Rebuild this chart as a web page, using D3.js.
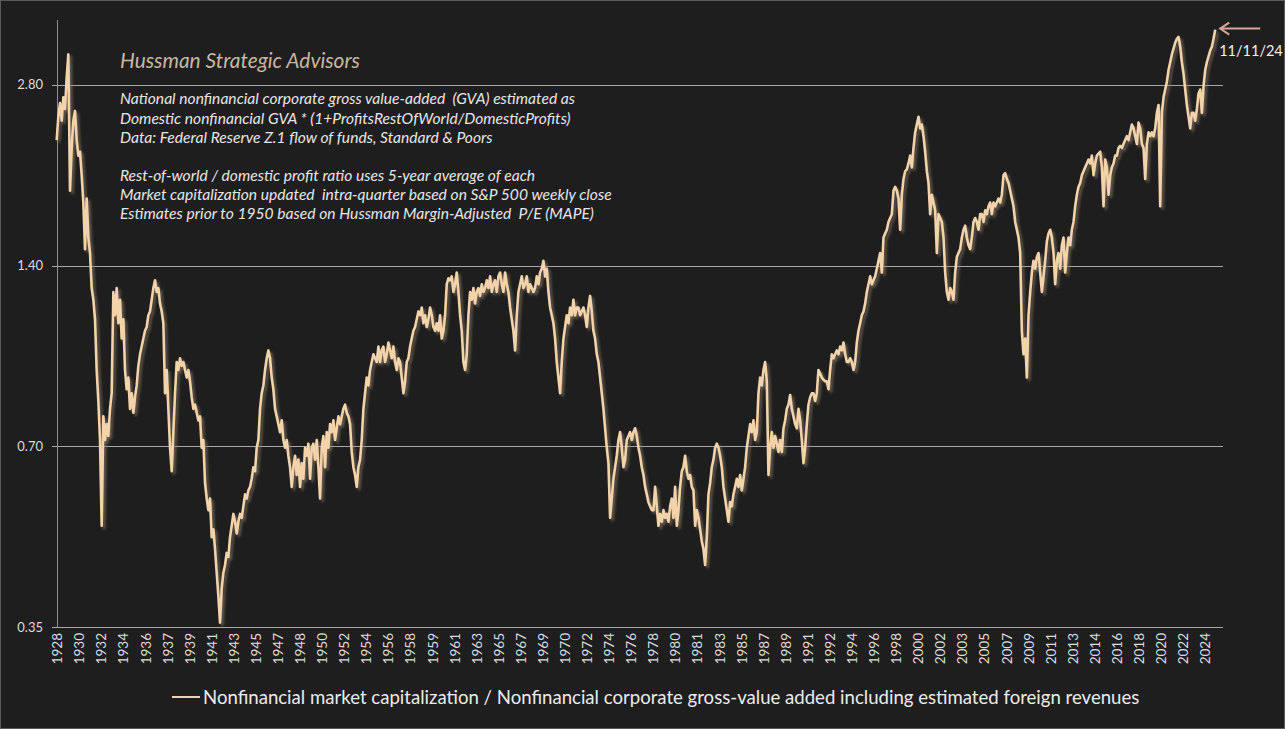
<!DOCTYPE html>
<html><head><meta charset="utf-8">
<script src="https://cdn.jsdelivr.net/npm/d3@7"></script>
<style>
html,body{margin:0;padding:0;background:#1e1e1e;}
svg{display:block;}
text{font-family:Lato,"Open Sans",sans-serif;}
</style></head><body>
<svg id="chart" width="1285" height="729"></svg>
<script>
// ---------- axis labels ----------
const tickLabels = ["1928","1930","1932","1934","1936","1937","1939","1941","1943","1945","1947","1948","1950","1952","1954","1956","1958","1959","1961","1963","1965","1967","1969","1970","1972","1974","1976","1978","1980","1981","1983","1985","1987","1989","1991","1992","1994","1996","1998","2000","2002","2003","2005","2007","2009","2011","2013","2014","2016","2018","2020","2022","2024"];
const yTicks = [0.35, 0.70, 1.40, 2.80];
const yMax = 3.59;
const startDate = 1928.844;   // first observation (decimal year)
const endDate = 2024.861;     // 11/11/24
const endLabel = "11/11/24";
const seriesName = "Nonfinancial market capitalization / Nonfinancial corporate gross-value added including estimated foreign revenues";
const titleText = "Hussman Strategic Advisors";
const noteLines = [
  "National nonfinancial corporate gross value-added  (GVA) estimated as",
  "Domestic nonfinancial GVA * (1+ProfitsRestOfWorld/DomesticProfits)",
  "Data: Federal Reserve Z.1 flow of funds, Standard & Poors",
  "",
  "Rest-of-world / domestic profit ratio uses 5-year average of each",
  "Market capitalization updated  intra-quarter based on S&P 500 weekly close",
  "Estimates prior to 1950 based on Hussman Margin-Adjusted  P/E (MAPE)"
];

// ---------- series values (equally spaced in time) ----------
const v1928 = [2.265,2.477,2.610,2.440,2.669,2.552,2.876,3.146,1.865,2.198,2.440,2.533,2.265,2.134,2.166,1.980,1.783,1.491,1.810,1.559,1.469,1.284,1.228,1.139,0.938,0.833,0.717,0.516,0.785,0.717,0.762,0.728,0.808,0.858,1.265,1.157,1.284,1.122,1.228,1.058,1.139,0.938,0.871,0.911,0.808,0.858,0.796,0.845,0.884,0.953,0.996,1.026,1.058,1.090,1.106,1.157,1.174,1.228,1.284,1.323,1.265,1.284,1.210,1.174,1.122,0.858,0.938,0.808,0.696,0.636,0.739,0.858,0.967,0.938,0.981,0.953,0.967,0.938,0.911,0.938,0.898,0.845,0.808,0.821,0.796,0.773,0.785,0.696,0.717,0.608,0.573,0.548,0.573,0.494,0.509,0.472,0.431,0.394,0.356,0.406,0.431,0.444,0.465,0.458,0.494,0.516,0.540,0.524,0.501,0.524,0.540,0.532,0.556,0.582,0.573,0.591];
const v1945 = [0.599,0.618,0.646,0.636,0.696,0.717,0.808,0.858,0.884,0.938,0.981,1.011,0.981,0.911,0.871,0.808,0.785,0.762,0.739,0.773,0.717,0.696,0.717,0.675,0.646,0.599,0.646,0.675,0.627,0.665,0.599,0.656,0.618,0.696,0.675,0.707,0.618,0.696,0.707,0.665,0.717,0.646,0.573,0.696,0.728,0.646,0.739,0.696,0.762,0.739,0.773,0.717,0.750,0.785,0.762,0.785,0.808,0.821,0.796,0.785,0.762,0.685,0.646,0.627,0.599,0.646,0.665,0.717,0.808,0.858,0.911,0.884,0.938,0.967,0.996,0.981,0.967,1.026,0.967,1.011,1.026,0.967,0.996,1.042,1.011,0.981,1.026,0.967,0.938,0.981,0.967,0.911,0.858,0.898,0.967,0.981,1.026,1.058,1.090,1.106,1.139,1.174,1.157,1.192,1.122,1.157,1.106,1.139,1.192,1.157,1.106,1.090,1.122,1.090,1.157,1.058,1.090,1.157,1.303,1.333];
const v1961 = [1.323,1.343,1.265,1.303,1.363,1.265,1.157,1.090,0.967,0.938,0.996,1.157,1.265,1.228,1.284,1.210,1.265,1.284,1.246,1.303,1.265,1.284,1.323,1.284,1.343,1.265,1.303,1.323,1.265,1.343,1.363,1.303,1.265,1.363,1.303,1.265,1.192,1.139,1.090,1.011,1.157,1.265,1.303,1.343,1.284,1.303,1.343,1.265,1.303,1.284,1.265,1.284,1.343,1.303,1.363,1.383,1.426,1.343,1.383,1.265,1.192,1.157,1.122,1.058,0.967,0.911,0.858,0.967,1.058,1.106,1.157,1.122,1.192,1.157,1.228,1.157,1.192,1.192,1.157,1.174,1.192,1.157,1.106,1.192,1.246,1.174,1.090,1.058,0.996,0.967,0.911,0.858,0.808,0.750,0.696,0.656,0.532,0.573,0.618,0.646,0.675,0.717,0.739,0.696,0.646,0.665,0.717,0.728,0.739,0.717,0.739,0.750,0.728,0.696,0.675,0.646,0.627,0.599,0.582,0.565];
const v1978 = [0.556,0.548,0.548,0.599,0.556,0.516,0.540,0.524,0.548,0.532,0.540,0.524,0.556,0.573,0.532,0.599,0.516,0.548,0.599,0.636,0.646,0.675,0.636,0.618,0.627,0.599,0.591,0.516,0.548,0.532,0.509,0.486,0.472,0.444,0.494,0.582,0.608,0.646,0.665,0.696,0.707,0.696,0.675,0.646,0.599,0.573,0.548,0.524,0.565,0.556,0.582,0.599,0.618,0.599,0.627,0.591,0.618,0.646,0.696,0.728,0.762,0.739,0.773,0.717,0.739,0.858,0.911,0.884,0.938,0.967,0.898,0.627,0.696,0.739,0.696,0.728,0.707,0.685,0.717,0.685,0.750,0.773,0.808,0.821,0.852,0.808,0.785,0.762,0.750,0.808,0.773,0.717,0.656,0.696,0.762,0.821,0.845,0.858,0.858,0.833,0.858,0.938,0.925,0.911,0.904,0.898,0.898,0.871,0.938,0.996,0.981,0.996,1.011,0.996,1.026,1.011,1.042,0.996,0.967,0.967];
const v1994 = [0.981,0.967,0.938,0.967,1.042,1.090,1.122,1.157,1.174,1.210,1.265,1.303,1.343,1.303,1.323,1.343,1.383,1.426,1.469,1.363,1.559,1.583,1.606,1.655,1.680,1.705,1.865,1.893,1.865,1.810,1.606,1.837,1.951,2.010,2.025,2.071,2.134,2.040,2.198,2.333,2.404,2.477,2.369,2.404,2.299,2.166,2.010,1.922,1.705,1.837,1.783,1.731,1.469,1.705,1.680,1.655,1.559,1.363,1.265,1.228,1.284,1.265,1.228,1.363,1.447,1.469,1.491,1.559,1.606,1.631,1.559,1.513,1.491,1.559,1.655,1.680,1.655,1.606,1.705,1.705,1.655,1.731,1.705,1.757,1.783,1.705,1.783,1.757,1.783,1.810,1.783,1.837,1.980,1.995,1.951,1.922,1.865,1.810,1.757,1.655,1.606,1.559,1.469,1.090,0.996,1.058,0.911,1.157,1.265,1.363,1.426,1.383,1.447,1.469,1.363,1.265,1.343,1.426,1.536,1.583];
const v2011 = [1.606,1.559,1.469,1.303,1.426,1.469,1.383,1.513,1.559,1.363,1.469,1.559,1.513,1.606,1.655,1.757,1.837,1.893,1.922,1.980,2.010,2.040,2.071,2.102,2.071,2.134,1.980,2.071,2.134,2.150,2.166,2.040,1.757,2.102,2.040,1.837,1.980,2.040,2.071,2.134,2.134,2.198,2.215,2.198,2.231,2.265,2.299,2.265,2.333,2.404,2.369,2.299,2.231,2.422,2.369,2.231,2.198,1.951,2.231,2.333,2.299,2.333,2.299,2.369,2.514,2.591,1.757,2.514,2.669,2.750,2.834,2.963,3.053,3.146,3.217,3.290,3.340,3.365,3.241,3.053,2.920,2.750,2.591,2.477,2.369,2.514,2.514,2.440,2.552,2.709,2.750,2.514,2.792,2.963,3.053,3.122,3.193,3.241,3.340,3.46];

const values = [].concat(v1928, v1945, v1961, v1978, v1994, v2011);
const n = values.length;
const dates = d3.range(n).map(i => startDate + i * (endDate - startDate) / (n - 1));
const data = dates.map((d, i) => ({date: d, value: values[i]}));

// ---------- layout ----------
const W = 1285, H = 729;
const plot = {left: 57, right: 1223, top: 20, bottom: 627};
const lineColor = "#f3d3aa";

const svg = d3.select("#chart");
svg.append("rect").attr("x", 0.5).attr("y", 0.5).attr("width", W - 1).attr("height", H - 1)
  .attr("fill", "#1e1e1e").attr("stroke", "#5a5a5a").attr("stroke-width", 1);

const defs = svg.append("defs");
const f = defs.append("filter").attr("id", "shadow").attr("x", "-5%").attr("y", "-5%").attr("width", "110%").attr("height", "110%");
f.append("feDropShadow").attr("dx", 2.4).attr("dy", 2.4).attr("stdDeviation", 1.3)
  .attr("flood-color", "#8c7c68").attr("flood-opacity", 0.6);

const x = d3.scaleLinear().domain([1928.871, 2025.506]).range([plot.left, plot.right]);
const y = d3.scaleLog().domain([yTicks[0], yMax]).range([plot.bottom, plot.top]);
const xCat = d3.scalePoint().domain(tickLabels).range([57, 1205]);

// y axis + gridlines
const yAxis = svg.append("g").attr("transform", `translate(${plot.left},0)`)
  .call(d3.axisLeft(y).tickValues(yTicks).tickFormat(d3.format(".2f"))
    .tickSizeInner(-(plot.right - plot.left)).tickSizeOuter(0).tickPadding(14));
yAxis.select(".domain").remove();
yAxis.selectAll(".tick line").attr("x1", -5).attr("stroke", "#a8a8a8").attr("stroke-width", 1)
  .attr("shape-rendering", "crispEdges");
yAxis.selectAll(".tick text").attr("fill", "#dcdcdc").style("font-size", "13px").style("font-family", "Lato");
svg.append("line").attr("x1", plot.left + 0.5).attr("x2", plot.left + 0.5)
  .attr("y1", plot.top).attr("y2", plot.bottom)
  .attr("stroke", "#8f8f8f").attr("stroke-width", 1);

// x axis labels
const xAxis = svg.append("g").attr("transform", `translate(0,${plot.bottom})`)
  .call(d3.axisBottom(xCat).tickSize(0));
xAxis.select(".domain").remove();
xAxis.selectAll(".tick text")
  .attr("transform", "rotate(-90)")
  .attr("x", -6).attr("y", 0).attr("dy", "0.35em")
  .style("text-anchor", "end")
  .attr("fill", "#dcdcdc").style("font-size", "13.5px").style("font-family", "Lato");

// title & notes
const title = svg.append("text").attr("x", 120).attr("y", 68).text(titleText)
  .attr("fill", "#c9b79f").style("font-size", "20px").style("font-style", "italic");
const tw = title.node().getComputedTextLength();
if (tw > 0) title.style("font-size", (20 * 240 / tw).toFixed(2) + "px");

const notes = svg.append("g");
const noteY = [104, 124, 143, 162, 181, 200, 219];
const nodes = noteLines.map((t, i) => notes.append("text").attr("x", 120).attr("y", noteY[i]).text(t)
    .attr("fill", "#e6e6e6").style("font-size", "14px").style("font-style", "italic")
    .attr("xml:space", "preserve").style("white-space", "pre"));
const w0 = nodes[0].node().getComputedTextLength();
if (w0 > 0) nodes.forEach(nd => nd.style("font-size", (14 * 455 / w0).toFixed(2) + "px"));

// series line
const line = d3.line().x(d => x(d.date)).y(d => y(d.value));
svg.append("path").datum(data).attr("d", line)
  .attr("fill", "none").attr("stroke", lineColor).attr("stroke-width", 2.6)
  .attr("stroke-linejoin", "round").attr("filter", "url(#shadow)");

// end annotation
const last = data[data.length - 1];
const ax = x(last.date) + 5, ay = y(last.value) - 1;
const arrowColor = "#d6a59c";
svg.append("line").attr("x1", ax).attr("x2", ax + 40).attr("y1", ay).attr("y2", ay)
  .attr("stroke", arrowColor).attr("stroke-width", 2);
svg.append("path").attr("d", `M${ax + 9},${ay - 6} L${ax},${ay} L${ax + 9},${ay + 6}`)
  .attr("fill", "none").attr("stroke", arrowColor).attr("stroke-width", 2);
svg.append("text").attr("x", ax - 1).attr("y", ay + 27).text(endLabel)
  .attr("fill", "#f0f0f0").style("font-size", "14.5px");

// legend
const lg = svg.append("g");
lg.append("line").attr("x1", 172).attr("x2", 200).attr("y1", 697).attr("y2", 697)
  .attr("stroke", lineColor).attr("stroke-width", 2);
const lt = lg.append("text").attr("x", 203).attr("y", 697).attr("dy", "0.35em").text(seriesName)
  .attr("fill", "#ececec").style("font-size", "17px");
const wl = lt.node().getComputedTextLength();
if (wl > 0) lt.style("font-size", (17 * 937 / wl).toFixed(2) + "px");
</script>
</body></html>
